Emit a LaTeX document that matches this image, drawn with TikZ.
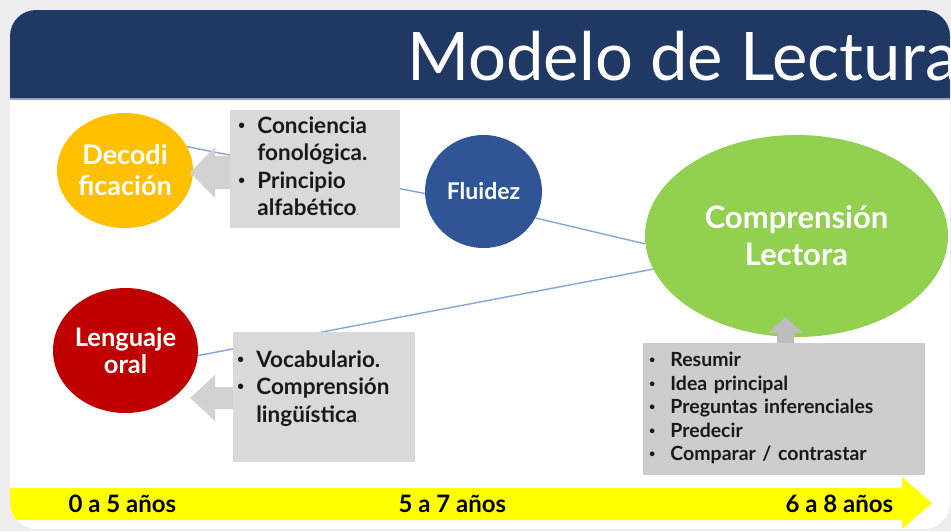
\documentclass[tikz,border=0pt]{standalone}
\usepackage{fontspec}
\setmainfont{Lato}
\usetikzlibrary{positioning, shapes.geometric, backgrounds}
\definecolor{header}{HTML}{1F3864}
\definecolor{decod}{HTML}{FFC000}
\definecolor{fluid}{HTML}{2F5597}
\definecolor{oral}{HTML}{C00000}
\definecolor{compr}{HTML}{92D050}
\definecolor{boxgray}{HTML}{D9D9D9}
\definecolor{taskgray}{HTML}{CDCDCD}
\definecolor{hintgray}{HTML}{D2D2D2}
\definecolor{link}{HTML}{86A5DA}
\definecolor{timeline}{HTML}{FFFF00}
\definecolor{page}{HTML}{EDEDED}
\pgfdeclarelayer{card}
\pgfsetlayers{card,background,main}
\newcommand{\dotitem}{\raisebox{0.17em}{\scalebox{0.55}{\textbullet}}}

\begin{document}
\begin{tikzpicture}[x=1pt, y=-1pt, font=\bfseries,
    bubble/.style={ellipse, inner sep=0pt, align=center, text=white},
    itembox/.style={fill=boxgray, anchor=north west, inner ysep=0pt, align=left, text=black!90},
    link/.style={draw=link, line width=1.4pt},
    hint/.style={fill=hintgray},
    age/.style={anchor=base west, font=\fontsize{24}{26}\selectfont\bfseries}]

  \useasboundingbox (0,0) rectangle (951,531);

  % slide card and title bar
  \begin{pgfonlayer}{card}
    \fill[page] (0,0) rectangle (951,531);
    \begin{scope}
      \clip[rounded corners=26pt] (10,10) rectangle (950,529);
      \fill[white] (10,10) rectangle (950,529);
      \fill[header] (10,10) rectangle (950,98);
      \draw[header!45, line width=2pt] (10,99) -- (950,99);
      \node[anchor=base west, inner sep=0pt, text=white, font=\fontsize{67}{67}\selectfont] (title) at (407,80) {Modelo de Lectura};
    \end{scope}
  \end{pgfonlayer}

  % skills
  \node[bubble, fill=decod, minimum width=136pt, minimum height=115pt, font=\fontsize{27}{31}\selectfont\bfseries] (dec) at (125,170.5) {Decodi\\ficación};
  \node[bubble, fill=oral, minimum width=145pt, minimum height=125pt, font=\fontsize{25.5}{27}\selectfont\bfseries] (oral) at (125.5,350.5) {Lenguaje\\oral};
  \node[bubble, fill=fluid, minimum width=117pt, minimum height=113pt, font=\fontsize{23}{25}\selectfont\bfseries] (flu) at (483.5,191.5) {Fluidez};
  \node[bubble, fill=compr, minimum width=303pt, minimum height=202pt, font=\fontsize{31}{37}\selectfont\bfseries] (comp) at (796.5,236) {Comprensión\\Lectora};

  % block arrows
  \fill[hint] (234,156) -- (215,156) -- (215,147) -- (190,172.5) -- (215,198) -- (215,189) -- (234,189) -- cycle;
  \fill[hint] (236,387) -- (215,387) -- (215,375) -- (190,398) -- (215,421) -- (215,409) -- (236,409) -- cycle;
  \fill[hint, fill=taskgray!92!black] (777,346) -- (777,333) -- (768,333) -- (785.5,317) -- (803,333) -- (794,333) -- (794,346) -- cycle;

  % what each one needs
  \node[itembox, minimum width=170pt, minimum height=118pt, text width=154pt, inner xsep=8pt, font=\fontsize{22.5}{27.5}\selectfont\bfseries] (fono) at (230,110)
    {\begin{tabular}{@{}l@{\hspace{12pt}}l@{}}
      \dotitem & Conciencia\\ & fonológica.\\
      \dotitem & Principio\\ & alfabético{\color{gray}\fontsize{9}{9}\selectfont.}
     \end{tabular}};
  \node[itembox, minimum width=182pt, minimum height=130pt, text width=174pt, inner xsep=4pt, font=\fontsize{22.5}{27.5}\selectfont\bfseries] (ling) at (233,332)
    {\begin{tabular}{@{}l@{\hspace{12pt}}l@{}}
      \dotitem & Vocabulario.\\
      \dotitem & Comprensión\\ & lingüística{\color{gray}\fontsize{9}{9}\selectfont.}\\[16pt]
     \end{tabular}};
  \node[itembox, fill=taskgray, minimum width=282pt, minimum height=132pt, text width=270pt, inner xsep=6pt, font=\fontsize{19.5}{23.5}\selectfont\bfseries] (tasks) at (643,343)
    {\begin{tabular}{@{}l@{\hspace{15pt}}l@{}}
      \dotitem & Resumir\\
      \dotitem & Idea principal\\
      \dotitem & Preguntas inferenciales\\
      \dotitem & Predecir\\
      \dotitem & Comparar / contrastar
     \end{tabular}};

  % links
  \begin{scope}[on background layer]
    \draw[link] (dec.21) -- (flu.182);
    \draw[link] (flu.-27) -- (comp.183);
    \draw[link] (oral.-4) -- (comp.193);
  \end{scope}

  % age line
  \begin{scope}
    \clip[rounded corners=26pt] (10,10) rectangle (950,529);
    \fill[timeline] (0,488) -- (902,488) -- (902,477) -- (932,503) -- (902,529) -- (902,520) -- (0,520) -- cycle;
  \end{scope}
  \node[age] (age0) at (65,512) {0 a 5 años};
  \node[age] (age5) at (395,512) {5 a 7 años};
  \node[age] (age6) at (782,512) {6 a 8 años};
\end{tikzpicture}
\end{document}
